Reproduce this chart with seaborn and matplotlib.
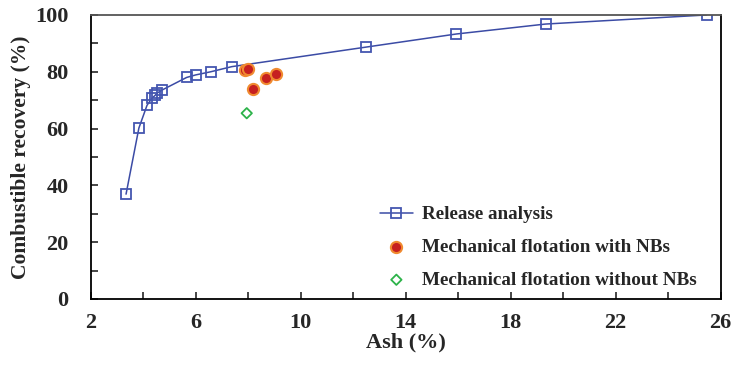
import numpy as np
import pandas as pd
import seaborn as sns
import matplotlib.pyplot as plt
from matplotlib.ticker import MultipleLocator

# release analysis curve
rel_ash = [3.34, 3.83, 4.14, 4.33, 4.46, 4.51, 4.72, 5.65, 6.0, 6.57, 7.37, 12.5, 15.93, 19.33, 25.47]
rel_rec = [36.9, 60.2, 68.2, 70.7, 71.8, 72.4, 73.6, 78.0, 78.9, 80.0, 81.8, 88.7, 93.3, 96.8, 100.0]

# mechanical flotation with NBs
nb_ash = [7.89, 8.0, 8.68, 9.06, 8.16]
nb_rec = [80.6, 81.0, 77.7, 79.2, 73.9]

# mechanical flotation without NBs
wo_ash = [7.94]
wo_rec = [65.4]

sns.set_style("white")
plt.rcParams['font.family'] = ['Liberation Serif', 'DejaVu Serif']
plt.rcParams['font.weight'] = 'bold'

fig = plt.figure(figsize=(7.33, 3.65), dpi=100)
ax = fig.add_axes([0.124, 0.181, 0.859, 0.778])

rel = pd.DataFrame({'ash': rel_ash, 'rec': rel_rec})
sns.lineplot(data=rel, x='ash', y='rec', ax=ax, color='#3B4BA5', lw=1.1, marker='s',
             markersize=7, markerfacecolor='none', markeredgecolor='#4456B0', markeredgewidth=1.3,
             label='Release analysis', sort=False)
sns.scatterplot(x=nb_ash, y=nb_rec, ax=ax, s=65, color='#C62020', edgecolor='#F08A30',
                linewidth=1.5, label='Mechanical flotation with NBs', zorder=3)
sns.scatterplot(x=wo_ash, y=wo_rec, ax=ax, marker='D', s=28, facecolor='none',
                edgecolor='#2DB34A', linewidth=1.3, label='Mechanical flotation without NBs', zorder=3)

ax.set_xlim(2, 26)
ax.set_ylim(0, 100)
ax.set_xticks([2, 6, 10, 14, 18, 22, 26])
ax.xaxis.set_minor_locator(MultipleLocator(2))
ax.yaxis.set_major_locator(MultipleLocator(20))
ax.yaxis.set_minor_locator(MultipleLocator(10))
ax.tick_params(which='both', direction='in', length=5, width=1.2, labelsize=16,
               bottom=True, left=True)
ax.tick_params(axis='y', pad=16)
ax.tick_params(axis='x', pad=10)
for lab in ax.get_xticklabels() + ax.get_yticklabels():
    lab.set_fontweight('bold')

for s in ['left', 'bottom', 'right']:
    ax.spines[s].set_color('black')
    ax.spines[s].set_linewidth(1.3)
ax.spines['top'].set_color('#555555')
ax.spines['top'].set_linewidth(1.3)

ax.set_xlabel('Ash (%)', fontsize=16, fontweight='bold', labelpad=0)
ax.set_ylabel('Combustible recovery (%)', fontsize=15.5, fontweight='bold', labelpad=3)

leg = ax.legend(loc='lower right', bbox_to_anchor=(0.99, -0.025), frameon=False,
                prop={'weight': 'bold', 'size': 13.8}, labelspacing=0.8,
                handlelength=1.7, handletextpad=0.5)

fig.savefig('out.png', dpi=100)
